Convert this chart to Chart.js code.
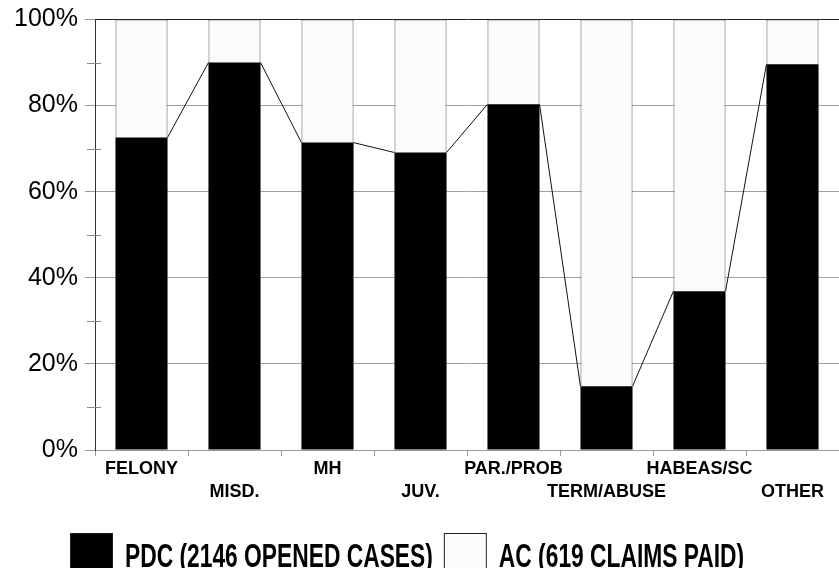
<!DOCTYPE html>
<html>
<head>
<meta charset="utf-8">
<script src="https://cdn.jsdelivr.net/npm/chart.js@4.4.0/dist/chart.umd.min.js"></script>
<style>
  html, body { margin: 0; padding: 0; background: #ffffff; overflow: hidden; }
  #wrap { position: relative; width: 839px; height: 568px; }
</style>
</head>
<body>
<div id="wrap"><canvas id="c"></canvas></div>
<script>
const categories = ['FELONY', 'MISD.', 'MH', 'JUV.', 'PAR./PROB', 'TERM/ABUSE', 'HABEAS/SC', 'OTHER'];
const pdcShare = [72.6, 90.0, 71.4, 69.1, 80.3, 14.8, 36.9, 89.6];
const acShare = [27.4, 10.0, 28.6, 30.9, 19.7, 85.2, 63.1, 10.4];
const seriesNames = ['PDC (2146 OPENED CASES)', 'AC (619 CLAIMS PAID)'];
const yTickValues = [0, 20, 40, 60, 80, 100];
const yMinorValues = [10, 30, 50, 70, 90];

const FONT = "'Liberation Sans', Arial, Helvetica, sans-serif";
const BLACK_FILL = '#000000';
const AC_FILL = '#fcfbfa';

// Series lines between bar tops (like spreadsheet "series lines")
const seriesLines = {
  id: 'seriesLines',
  afterDatasetsDraw(chart) {
    const meta = chart.getDatasetMeta(0);
    const ctx = chart.ctx;
    ctx.save();
    ctx.strokeStyle = '#111';
    ctx.lineWidth = 1;
    for (let i = 0; i < meta.data.length - 1; i++) {
      const a = meta.data[i], b = meta.data[i + 1];
      ctx.beginPath();
      ctx.moveTo(a.x + a.width / 2, a.y);
      ctx.lineTo(b.x - b.width / 2, b.y);
      ctx.stroke();
    }
    ctx.restore();
  }
};

// Minor tick marks on the value axis
const minorTicks = {
  id: 'minorTicks',
  afterDraw(chart) {
    const y = chart.scales.y;
    const ctx = chart.ctx;
    const left = chart.chartArea.left;
    ctx.save();
    ctx.strokeStyle = '#888';
    ctx.lineWidth = 1;
    yMinorValues.forEach(v => {
      const py = Math.round(y.getPixelForValue(v)) + 0.5;
      ctx.beginPath();
      ctx.moveTo(left - 8, py);
      ctx.lineTo(left + 6, py);
      ctx.stroke();
    });
    ctx.restore();
  }
};

// Legend drawn below the axis
const customLegend = {
  id: 'customLegend',
  afterDraw(chart) {
    const ctx = chart.ctx;
    const datasets = chart.data.datasets;
    ctx.save();
    ctx.font = "bold 22.8px " + FONT;
    ctx.textBaseline = 'alphabetic';
    ctx.textAlign = 'left';
    let x = 70;
    const boxTop = 533, boxSize = 43, baseline = 567;
    datasets.forEach(ds => {
      ctx.fillStyle = ds.backgroundColor;
      ctx.fillRect(x, boxTop, boxSize, boxSize);
      ctx.strokeStyle = '#222';
      ctx.lineWidth = 1;
      ctx.strokeRect(x + 0.5, boxTop + 0.5, boxSize - 1, boxSize - 1);
      x += boxSize + 12;
      ctx.save();
      ctx.translate(x, baseline);
      ctx.scale(1, 1.45);
      ctx.fillStyle = '#000';
      ctx.fillText(ds.label, 0, 0);
      ctx.restore();
      x += ctx.measureText(ds.label).width + 11;
    });
    ctx.restore();
  }
};

new Chart(document.getElementById('c'), {
  type: 'bar',
  data: {
    labels: categories,
    datasets: [
      {
        label: seriesNames[0],
        data: pdcShare,
        backgroundColor: BLACK_FILL,
        borderColor: '#000',
        borderWidth: 0,
        barPercentage: 0.56,
        categoryPercentage: 1.0
      },
      {
        label: seriesNames[1],
        data: acShare,
        backgroundColor: AC_FILL,
        borderColor: '#555',
        borderWidth: 1,
        barPercentage: 0.56,
        categoryPercentage: 1.0
      }
    ]
  },
  options: {
    responsive: true,
    maintainAspectRatio: false,
    animation: false,
    events: [],
    layout: { padding: { top: 19, right: 0, left: 0, bottom: 0 } },
    plugins: {
      legend: { display: false },
      tooltip: { enabled: false },
      title: { display: false }
    },
    scales: {
      x: {
        stacked: true,
        offset: true,
        grid: {
          offset: true,
          drawOnChartArea: false,
          drawTicks: true,
          tickLength: 6,
          color: '#999',
          tickColor: '#999'
        },
        border: { display: true, color: '#999', width: 1 },
        ticks: {
          autoSkip: false,
          maxRotation: 0,
          minRotation: 0,
          padding: 2,
          color: '#000',
          font: { family: FONT, size: 18, weight: 'bold', lineHeight: 1.25 },
          callback: (val, i) => i % 2 === 0 ? [categories[i], ''] : ['', categories[i]]
        },
        afterFit(scale) { scale.height = 118; }
      },
      y: {
        stacked: true,
        min: 0,
        max: 100,
        afterBuildTicks(scale) { scale.ticks = yTickValues.map(v => ({ value: v })); },
        grid: {
          drawTicks: true,
          tickLength: 10,
          color: ctx => (ctx.tick && ctx.tick.value === 100) ? '#222' : '#a0a0a0',
          tickColor: '#999'
        },
        border: { display: true, color: '#333', width: 1 },
        ticks: {
          padding: 7,
          color: '#000',
          font: { family: FONT, size: 25, lineHeight: 1 },
          callback: v => v + '%'
        },
        afterFit(scale) { scale.width = 95; }
      }
    }
  },
  plugins: [seriesLines, minorTicks, customLegend]
});
</script>
</body>
</html>
